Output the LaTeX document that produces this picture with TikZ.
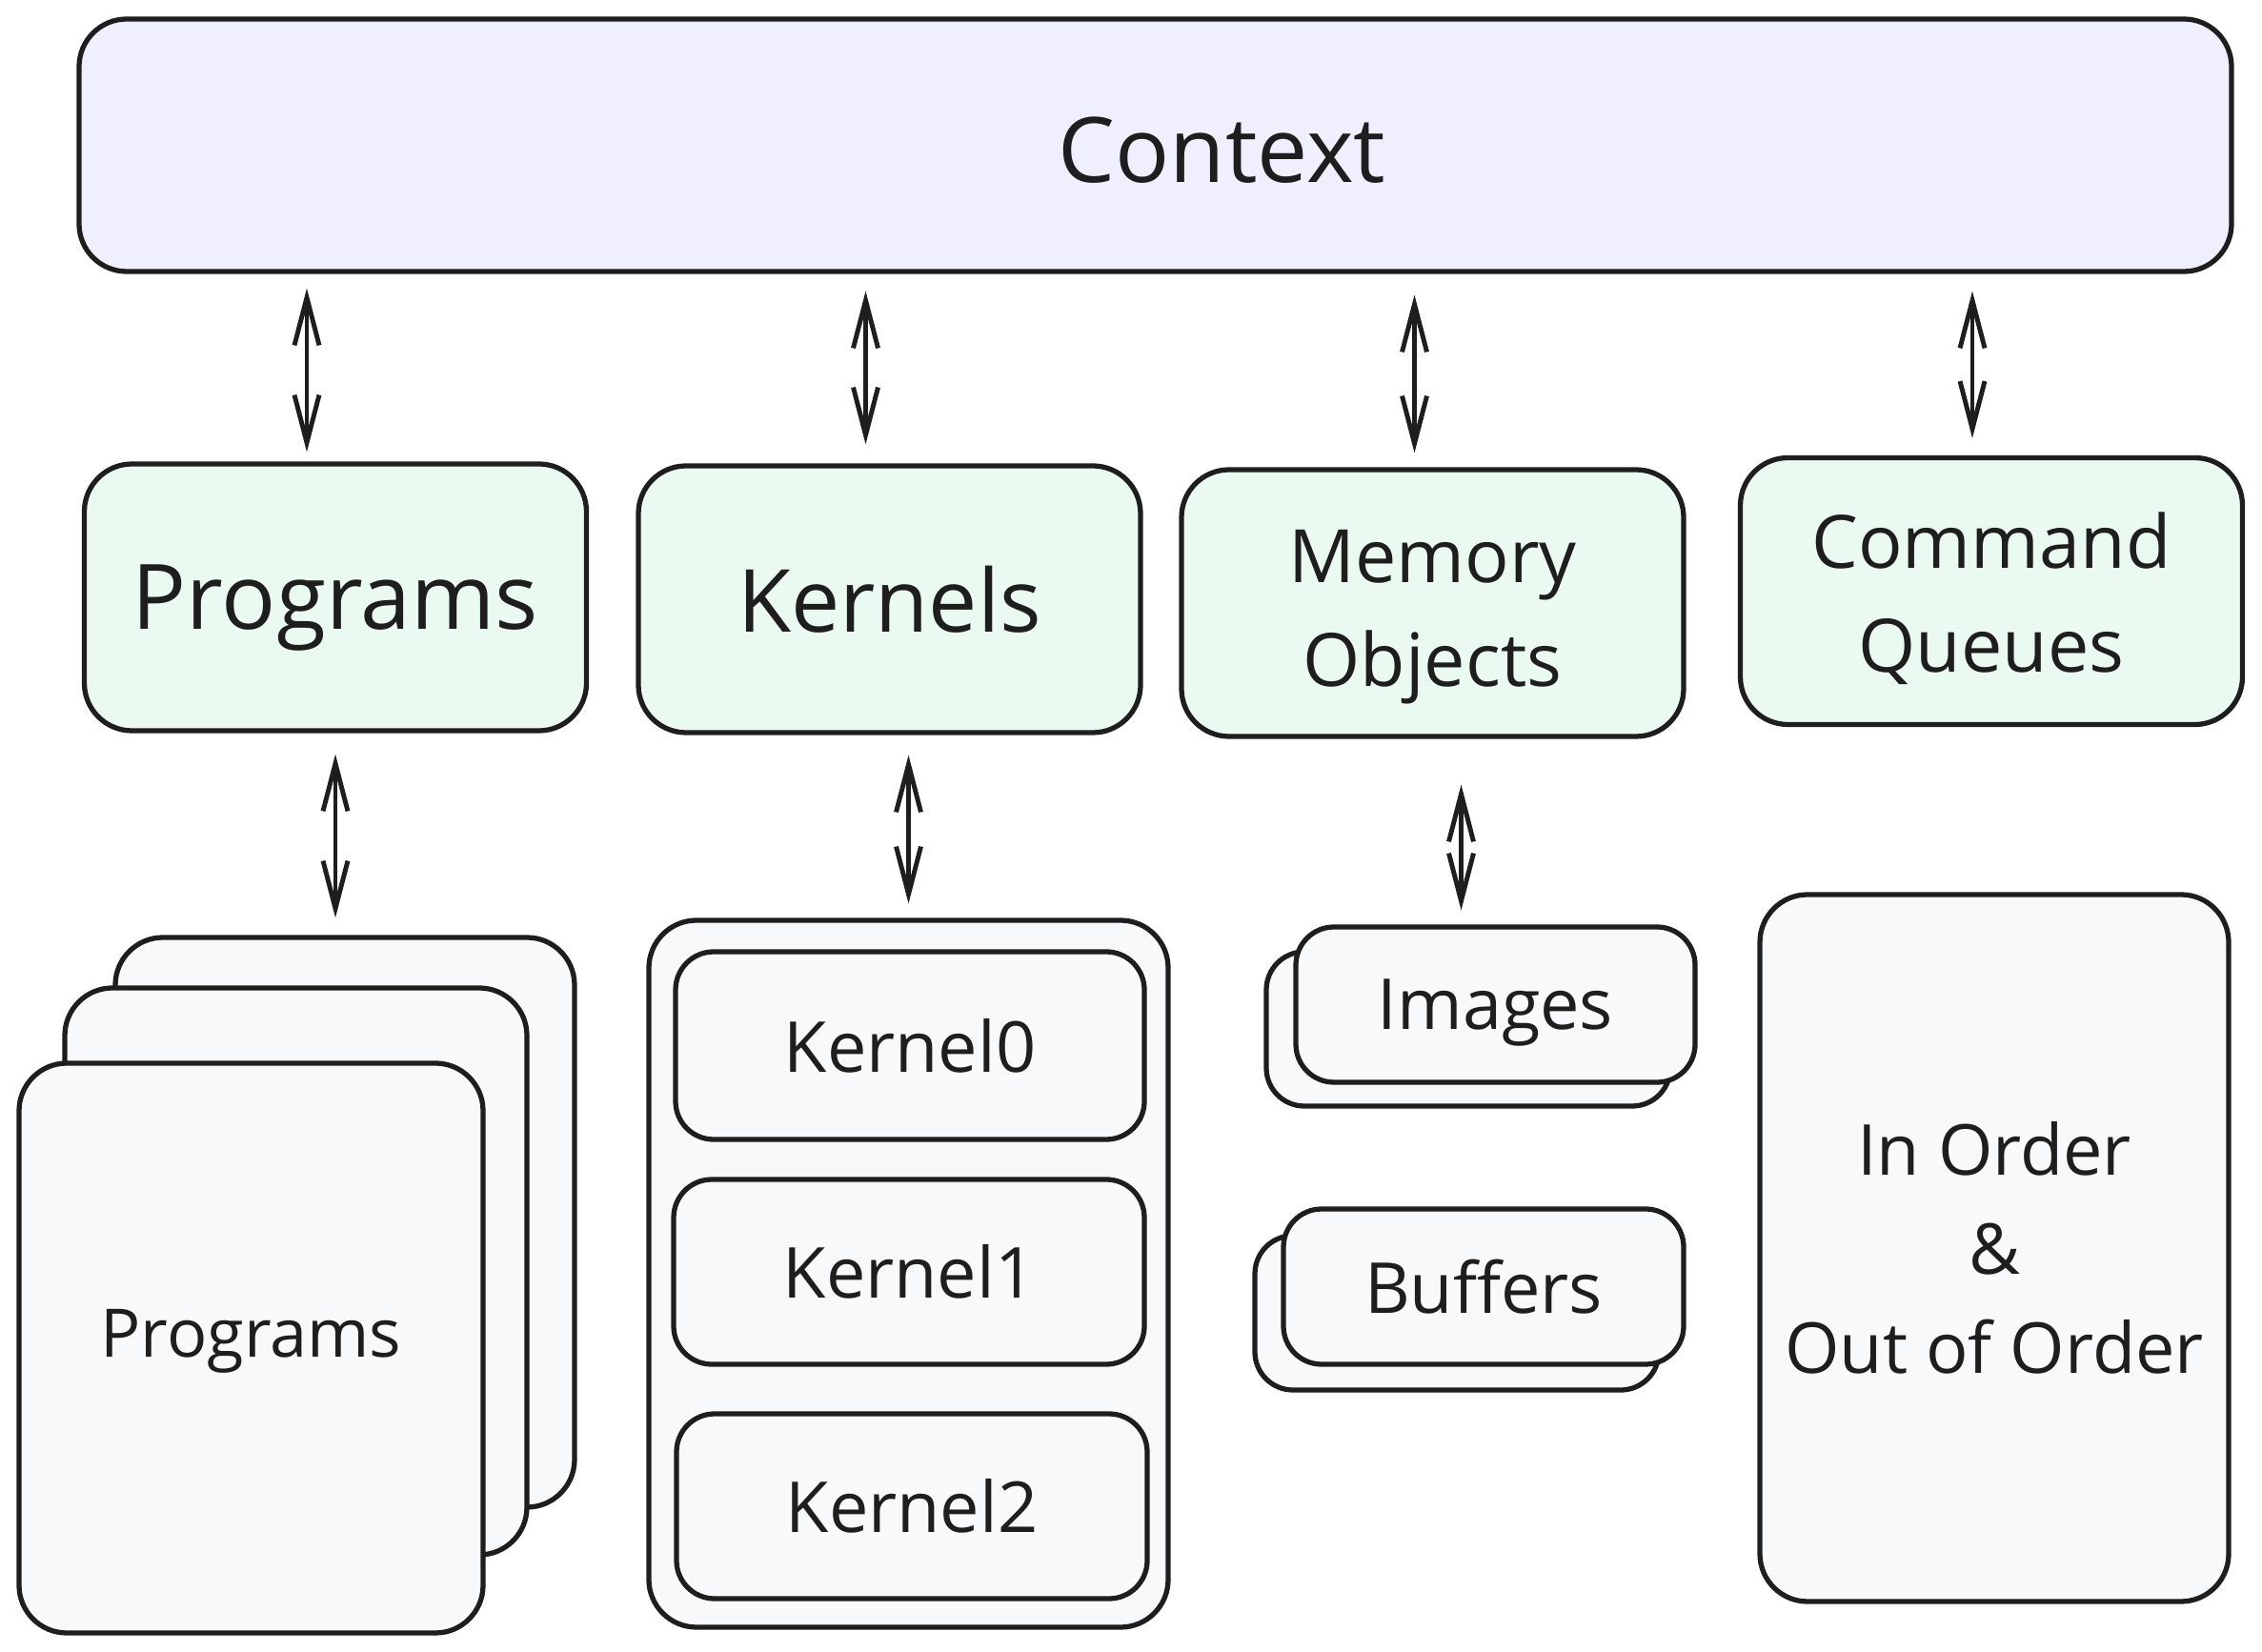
\documentclass[tikz,border=0pt]{standalone}
\usepackage{fontspec}
\setmainfont{Open Sans}
\usetikzlibrary{arrows.meta}
\definecolor{ink}{HTML}{1E1E1E}
\definecolor{ctxfill}{HTML}{F0EFFE}
\definecolor{objfill}{HTML}{EBFAF0}
\definecolor{itemfill}{HTML}{F8F9FA}
\begin{document}
\begin{tikzpicture}[x=1mm, y=-1mm, every node/.style={font=\fontsize{21}{29.5}\selectfont, text=ink}, box/.style={draw=ink, line width=1.5pt, rounded corners=5mm, align=center, inner sep=0pt}, ctxbox/.style={box, fill=ctxfill}, objbox/.style={box, fill=objfill, minimum width=52.7mm, minimum height=28mm}, itembox/.style={box, fill=itemfill}, smallbox/.style={itembox, rounded corners=4mm}, arrow/.style={{Straight Barb[length=5mm,width=2.6mm]}-{Straight Barb[length=5mm,width=2.6mm]}, line width=1.4pt, draw=ink}]
\useasboundingbox (0,0) rectangle (237.4,173.4);
% top
\node[ctxbox, minimum width=225.9mm, minimum height=26.5mm, label={[font=\fontsize{27}{32}\selectfont, text=ink, xshift=7mm, yshift=-0.5mm]center:Context}] (ctx) at (121.25,15.25) {};
% objects in the context
\node[objbox, font=\fontsize{27}{32}\selectfont, text depth=0pt] (prog) at (35.2,62.7) {Programs};
\node[objbox, font=\fontsize{26}{32}\selectfont] (kern) at (93.35,62.9) {Kernels};
\node[objbox, font=\fontsize{22}{31}\selectfont] (mem) at (150.35,63.3) {\raisebox{0pt}[\dimexpr\height+3mm\relax]{Memory}\\Objects};
\node[objbox, font=\fontsize{22}{31}\selectfont] (cmdq) at (209,62.05) {\raisebox{0pt}[\dimexpr\height+1.5mm\relax]{Command}\\Queues};
% program stack
\node[itembox, minimum width=48.2mm, minimum height=59.8mm] (prog3) at (36.2,128.3) {};
\node[itembox, minimum width=48.5mm, minimum height=59.5mm] (prog2) at (31.05,133.45) {};
\node[itembox, minimum width=48.7mm, minimum height=59.8mm, font=\fontsize{20}{28}\selectfont, text depth=3.2mm] (prog1) at (26.35,141.5) {Programs};
% kernels
\node[itembox, minimum width=54.5mm, minimum height=74.2mm] (kgrp) at (95.35,133.7) {};
\node[smallbox, minimum width=49.2mm, minimum height=19.7mm] (kern0) at (95.5,109.75) {Kernel0};
\node[smallbox, minimum width=49.4mm, minimum height=19.4mm] (kern1) at (95.4,133.5) {Kernel1};
\node[smallbox, minimum width=49.4mm, minimum height=19.4mm] (kern2) at (95.7,158.1) {Kernel2};
% memory objects
\node[smallbox, minimum width=42.4mm, minimum height=16.2mm] (img2) at (154.1,108) {};
\node[smallbox, minimum width=41.9mm, minimum height=16.3mm, text depth=0pt] (img) at (156.95,105.45) {Images};
\node[smallbox, minimum width=42.4mm, minimum height=16.2mm] (buf2) at (152.9,137.8) {};
\node[smallbox, minimum width=42mm, minimum height=16.3mm] (buf) at (155.7,135.05) {Buffers};
% queues
\node[itembox, minimum width=49.2mm, minimum height=74.2mm] (order) at (209.3,131) {In Order\\\&\\Out of Order};
\draw[arrow, shorten <=1.5mm, shorten >=1mm] ([xshift=-3mm]prog.north |- ctx.south) -- ([xshift=-3mm]prog.north);
\draw[arrow, shorten <=1.8mm, shorten >=2mm] ([xshift=-2.5mm]kern.north |- ctx.south) -- ([xshift=-2.5mm]kern.north);
\draw[arrow, shorten <=2.2mm, shorten >=1.5mm] ([xshift=-1.9mm]mem.north |- ctx.south) -- ([xshift=-1.9mm]mem.north);
\draw[arrow, shorten <=1.8mm, shorten >=1.8mm] ([xshift=-2mm]cmdq.north |- ctx.south) -- ([xshift=-2mm]cmdq.north);
\draw[arrow, shorten <=2.2mm, shorten >=1.8mm] (prog.south) -- (prog.south |- prog3.north);
\draw[arrow, shorten <=2.1mm, shorten >=1.5mm] (kgrp.north |- kern.south) -- (kgrp.north);
\draw[arrow, shorten <=4.8mm, shorten >=1.5mm] ([xshift=3mm]mem.south) -- ([xshift=3mm]mem.south |- img.north);
\end{tikzpicture}
\end{document}
